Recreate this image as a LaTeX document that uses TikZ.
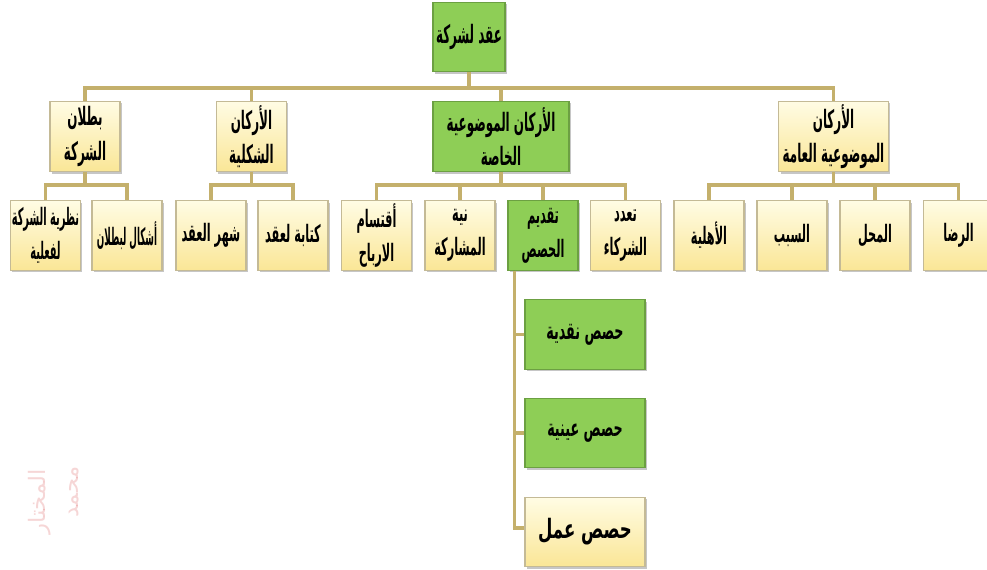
\documentclass[tikz,border=0pt]{standalone}
\usepackage{fontspec}
\usetikzlibrary{shadows}
\TeXXeTstate=1
\newfontfamily\arabicfont[Script=Arabic]{DejaVu Sans}
% one right-to-left line of bold Arabic, narrowed to fit the boxes
\newcommand\arline[2][0.47]{\scalebox{#1}[1]{\arabicfont\bfseries\beginR #2\endR}}

\definecolor{linkc}{RGB}{196,176,108}
\definecolor{gfill}{RGB}{142,206,86}
\definecolor{gborder}{RGB}{108,160,66}
\definecolor{ytop}{RGB}{255,252,228}
\definecolor{ybot}{RGB}{250,230,150}
\definecolor{yborder}{RGB}{196,186,150}
\definecolor{signc}{RGB}{225,120,120}

\begin{document}
\begin{tikzpicture}[x=0.75pt,y=-0.75pt,
  box/.style={draw, line width=0.8pt, minimum width=52.5pt, minimum height=52pt,
    inner sep=1pt, align=center, font=\fontsize{18}{25.5}\selectfont,
    drop shadow={shadow xshift=1.4pt, shadow yshift=-1.4pt, opacity=0.45}},
  yel/.style={box, draw=yborder, top color=ytop, bottom color=ybot},
  grn/.style={box, draw=gborder, fill=gfill},
  head/.style={font=\fontsize{19}{26}\selectfont, minimum height=53pt},
  link/.style={draw=linkc, line width=2.4pt},
  sign/.style={rotate=90, text=signc, opacity=0.3, inner sep=0pt,
    font=\arabicfont\fontsize{17}{17}\selectfont}]

\useasboundingbox (0,0) rectangle (987,569);

% root
\node[grn, head, minimum width=54pt, minimum height=52pt] (root) at (469,37) {\arline{عقد لشركة}};

% first level
\node[yel, head] (A) at (85,136.5) {\arline{بطلان}\\\arline{الشركة}};
\node[yel, head] (B) at (251.5,136.5) {\arline{الأركان}\\\arline{الشكلية}};
\node[grn, head, minimum width=102pt] (C) at (501,136.5) {\arline{الأركان الموضوعية}\\\arline{الخاصة}};
\node[yel, head, minimum width=82pt] (D) at (833.5,136.5) {\arline{الأركان}\\\arline{الموضوعية العامة}};

% second level
\node[yel, minimum width=50pt] (a1) at (45.5,235.5) {\arline[0.41]{نظرية الشركة}\\\arline[0.41]{لفعلية}};
\node[yel] (a2) at (127,235.5) {\arline[0.365]{أشكال لبطلان}};
\node[yel] (b1) at (211,235.5) {\arline{شهر العقد}};
\node[yel] (b2) at (293,235.5) {\arline{كتابة لعقد}};
\node[yel] (c1) at (376.5,235.5) {\arline{أقتسام}\\\arline{الارباح}};
\node[yel] (c2) at (460,235.5) {\arline{نية}\\\arline{المشاركة}};
\node[grn] (c3) at (543,235.5) {\arline{تقديم}\\\arline{الحصص}};
\node[yel] (c4) at (625.5,235.5) {\arline{تعدد}\\\arline{الشركاء}};
\node[yel] (d1) at (709,235.5) {\arline{الأهلية}};
\node[yel] (d2) at (792,235.5) {\arline{السبب}};
\node[yel] (d3) at (875,235.5) {\arline{المحل}};
\node[yel] (d4) at (958.5,235.5) {\arline{الرضا}};

% kinds of shares
\node[grn, minimum width=90pt] (k1) at (585,334.5) {\arline[0.53]{حصص نقدية}};
\node[grn, minimum width=90pt] (k2) at (585,433) {\arline[0.53]{حصص عينية}};
\node[yel, minimum width=90pt, font=\fontsize{20}{24}\selectfont] (k3) at (585,532) {\arline[0.62]{حصص عمل}};

% connector rails
\coordinate (busR) at (0,88);
\coordinate (busL) at (0,185);

\draw[link] (root.south) -- (root.south |- busR);
\draw[link] (A.north) |- (busR -| D.north) -- (D.north);
\draw[link] (B.north) -- (B.north |- busR);
\draw[link] (C.north) -- (C.north |- busR);

\foreach \p/\l/\r in {A/a1/a2, B/b1/b2, C/c1/c4, D/d1/d4}{
  \draw[link] (\p.south) -- (\p.south |- busL);
  \draw[link] (\l.north) |- (busL -| \r.north) -- (\r.north);
}
\draw[link] (c2.north) -- (c2.north |- busL);
\draw[link] (c3.north) -- (c3.north |- busL);
\draw[link] (d2.north) -- (d2.north |- busL);
\draw[link] (d3.north) -- (d3.north |- busL);

\coordinate (spine) at ([xshift=5.25pt]c3.south west);
\draw[link] (spine) |- (k1.west);
\draw[link] (spine) |- (k2.west);
\draw[link] (spine) |- ([yshift=3pt]k3.west);

% handwritten signature
\node[sign] (sign1) at (74,492) {\beginR محمد\endR};
\node[sign] (sign2) at (40,502) {\beginR المختار\endR};
\end{tikzpicture}
\end{document}
